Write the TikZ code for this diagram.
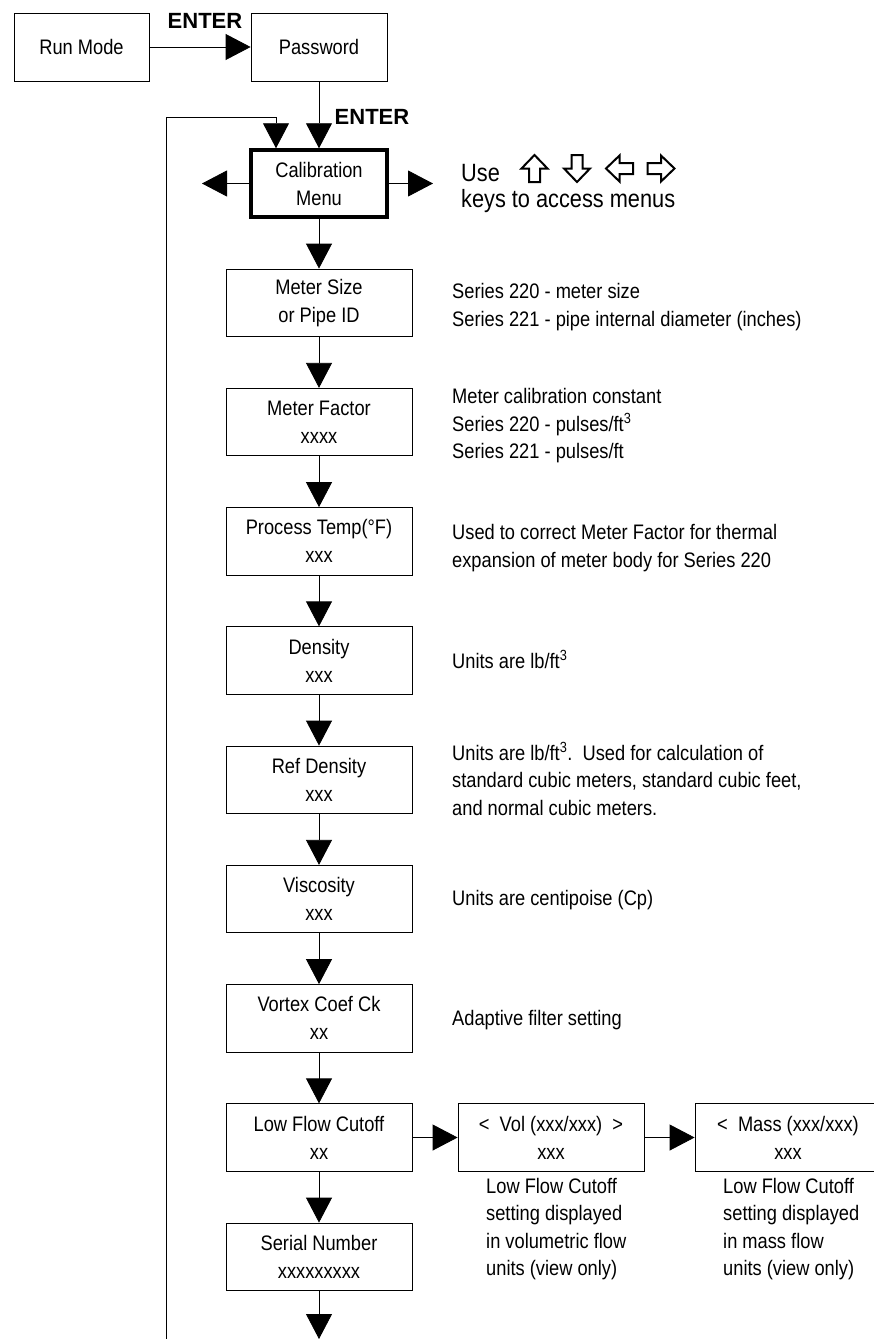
\documentclass[tikz,border=0pt]{standalone}
\usepackage{fontspec}
\setmainfont{Liberation Sans}[FakeStretch=0.87]
\newfontfamily\plainarial{Liberation Sans}
\usetikzlibrary{arrows.meta,calc}
\begin{document}
\begin{tikzpicture}[x=1pt,y=-1pt,
  box/.style={draw, line width=0.8pt, minimum width=186pt, minimum height=67.5pt, inner sep=0pt, align=center, font=\fontsize{21}{28}\selectfont},
  desc/.style={anchor=base west, align=left, inner sep=0pt, font=\fontsize{21}{27.5}\selectfont},
  arr/.style={line width=0.8pt, -{Triangle[length=25pt,width=26pt]}},
  keyarr/.style={line width=2pt, line join=miter},
  enter/.style={font=\plainarial\bfseries\fontsize{22}{26}\selectfont, inner sep=0pt},
  big/.style={anchor=base west, inner sep=0pt, font=\fontsize{25}{30}\selectfont}
]
\useasboundingbox (0,0) rectangle (874,1339);

% top row
\node[box, minimum width=135pt, minimum height=68pt] (run) at (81.5,47) {Run Mode};
\node[box, minimum width=136pt, minimum height=68pt] (pw) at (319,47) {Password};
\node[enter] (e1) at (205,21) {ENTER};
\node[enter] (e2) at (372,117) {ENTER};

% calibration menu
\node[box, line width=3.5pt, minimum width=136pt, minimum height=67pt] (cal) at (319,183.5) {Calibration\\Menu};
\coordinate (calL) at (202,183.5);
\coordinate (calR) at (433,183.5);

% key hint
\node[big] (use) at (461,181) {Use};
\node[big] (keys) at (461,207) {keys to access menus};
\foreach \cx/\ang in {534.5/0, 577/180, 619.5/90, 661/-90}{
  \draw[keyarr, shift={(\cx,168.5)}, rotate=\ang] (0,-13.5) -- (13,0) -- (5.5,0) -- (5.5,13.5) -- (-5.5,13.5) -- (-5.5,0) -- (-13,0) -- cycle;
}

% column
\node[box] (ms)  at (319,302.75)  {Meter Size\\or Pipe ID};
\node[box] (mf)  at (319,422)     {Meter Factor\\xxxx};
\node[box] (pt)  at (319,541.25)  {Process Temp(°F)\\xxx};
\node[box] (den) at (319,660.5)   {Density\\xxx};
\node[box] (rd)  at (319,779.75)  {Ref Density\\xxx};
\node[box] (vis) at (319,899)     {Viscosity\\xxx};
\node[box] (vc)  at (319,1018.25) {Vortex Coef Ck\\xx};
\node[box] (lfc) at (319,1137.5)  {Low Flow Cutoff\\xx};
\node[box] (sn)  at (319,1256.75) {Serial Number\\xxxxxxxxx};

\node[box] (vol)  at (551,1137.5) {<\ \ Vol (xxx/xxx)\ \ >\\xxx};
\node[box] (mass) at (788,1137.5) {<\ \ Mass (xxx/xxx)\\xxx};

% descriptions (base = baseline of last line)
\node[desc] (dms)  at (452,326)   {Series 220 - meter size\\Series 221 - pipe internal diameter (inches)};
\node[desc] (dmf)  at (452,458.5) {Meter calibration constant\\Series 220 - pulses/ft\textsuperscript{3}\\Series 221 - pulses/ft};
\node[desc] (dpt)  at (452,567)   {Used to correct Meter Factor for thermal\\expansion of meter body for Series 220};
\node[desc] (dden) at (452,668)   {Units are lb/ft\textsuperscript{3}};
\node[desc] (drd)  at (452,815)   {Units are lb/ft\textsuperscript{3}.\ \ Used for calculation of\\standard cubic meters, standard cubic feet,\\and normal cubic meters.};
\node[desc] (dvis) at (452,905.5) {Units are centipoise (Cp)};
\node[desc] (dvc)  at (452,1025)  {Adaptive filter setting};
\node[desc] (dvol) at (486,1275.5)  {Low Flow Cutoff\\setting displayed\\in volumetric flow\\units (view only)};
\node[desc] (dmass) at (723,1275.5) {Low Flow Cutoff\\setting displayed\\in mass flow\\units (view only)};

% connectors
\draw[arr] (run) -- (pw);
\draw[arr] (pw) -- (cal);
\coordinate (loopb) at (166,1339);
\coordinate (loopt) at (166,117);
\coordinate (loopin) at (276,117);
\draw[arr] (loopb) -- (loopt) -- (loopin) -- (loopin |- cal.north);
\draw[arr] (cal) -- (calL);
\draw[arr] (cal) -- (calR);
\draw[arr] (cal) -- (ms);
\draw[arr] (ms) -- (mf);
\draw[arr] (mf) -- (pt);
\draw[arr] (pt) -- (den);
\draw[arr] (den) -- (rd);
\draw[arr] (rd) -- (vis);
\draw[arr] (vis) -- (vc);
\draw[arr] (vc) -- (lfc);
\draw[arr] (lfc) -- (sn);
\draw[arr] (lfc) -- (vol);
\draw[arr] (vol) -- (mass);
\coordinate (bot) at (319,1339);
\draw[arr] (sn) -- (bot);
\end{tikzpicture}
\end{document}
